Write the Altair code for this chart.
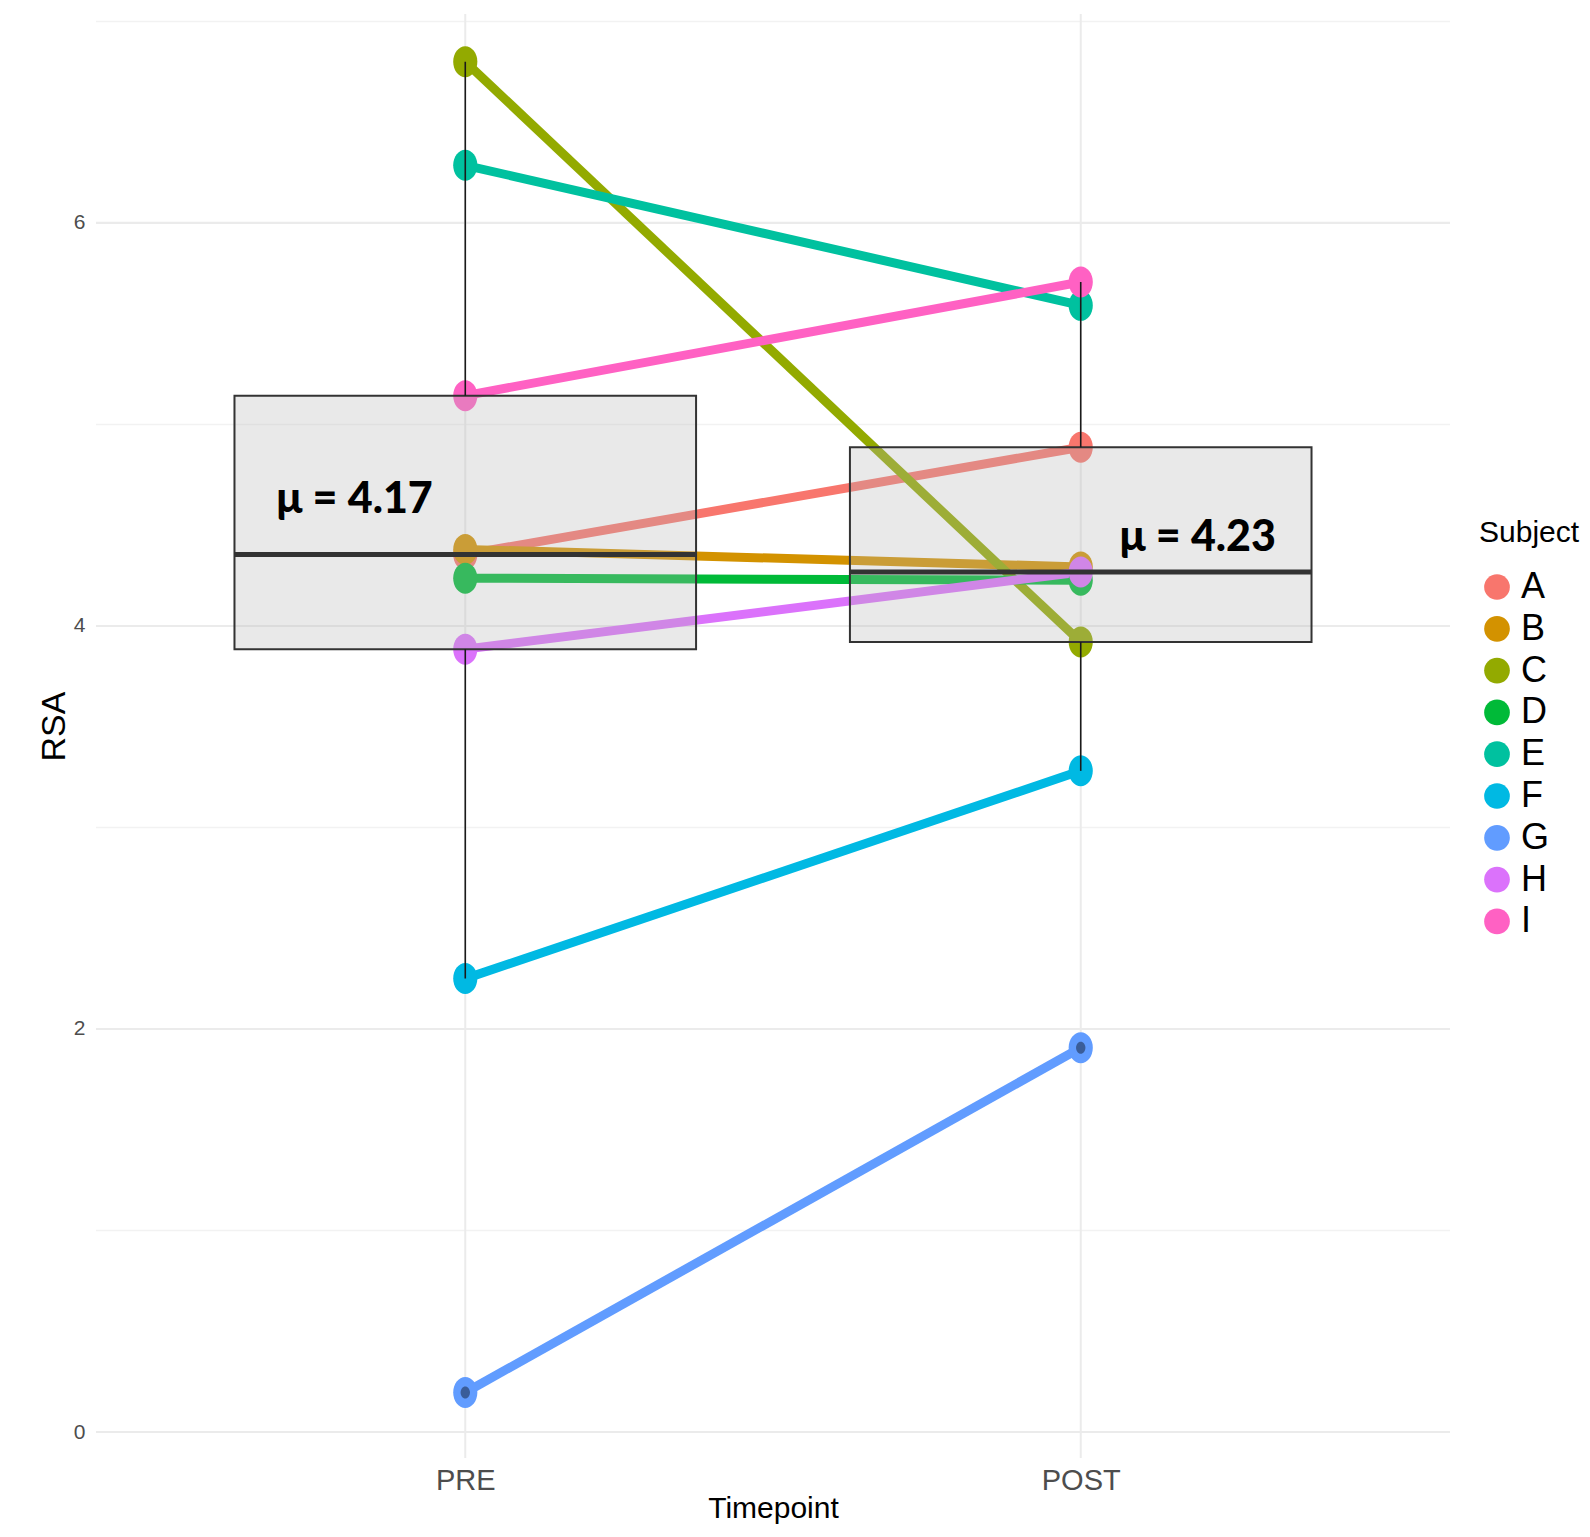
import altair as alt
import numpy as np
import pandas as pd

# ---- data ----
subjects = ["A", "B", "C", "D", "E", "F", "G", "H", "I"]
pre_rsa = [4.355, 4.38, 6.80, 4.237, 6.286, 2.25, 0.196, 3.885, 5.143]
post_rsa = [4.887, 4.293, 3.92, 4.227, 5.591, 3.281, 1.907, 4.268, 5.707]
timepoints = ["PRE", "POST"]
subject_colors = ["#F8766D", "#D39200", "#93AA00", "#00BA38", "#00C19F",
                  "#00B9E3", "#619CFF", "#DB72FB", "#FF61C3"]
y_major = [0, 2, 4, 6]
y_minor = [1, 3, 5, 7]
# annotation anchor (data units) for the mean labels
label_x = [0.82, 2.19]
label_y = [4.56, 4.37]

SANS = "Liberation Sans, Arial"
ELLIPSE = "M0,-1A0.78,1 0 1,1 0,1A0.78,1 0 1,1 0,-1Z"

# ---- tables ----
series = [pre_rsa, post_rsa]
long_df = pd.DataFrame([
    {"Subject": s, "t": i + 1, "RSA": v}
    for i, vals in enumerate(series) for s, v in zip(subjects, vals)
])

stat_rows, out_rows = [], []
for i, vals in enumerate(series):
    arr = np.array(vals)
    q1, med, q3 = np.percentile(arr, [25, 50, 75])
    iqr = q3 - q1
    ok = (arr >= q1 - 1.5 * iqr) & (arr <= q3 + 1.5 * iqr)
    stat_rows.append({
        "t": i + 1, "lo": i + 1 - 0.375, "hi": i + 1 + 0.375,
        "q1": q1, "q3": q3, "med": med,
        "wlo": arr[ok].min(), "whi": arr[ok].max(),
        "lx": label_x[i], "ly": label_y[i],
        "label": f"\u03bc = {arr.mean():.2f}",
    })
    for v in arr[~ok]:
        out_rows.append({"t": i + 1, "RSA": v})
stats = pd.DataFrame(stat_rows)
outliers = pd.DataFrame(out_rows)

xs = alt.Scale(domain=[0.4, 2.6], nice=False, zero=False)
ys = alt.Scale(domain=[-0.129, 7.037], nice=False, zero=False)
cs = alt.Scale(domain=subjects, range=subject_colors)

label_expr = " : ".join(
    f"datum.value == {i + 1} ? '{t}'" for i, t in enumerate(timepoints[:-1])
) + f" : '{timepoints[-1]}'"

x_axis = alt.Axis(values=[1, 2], labelExpr=label_expr, grid=False, ticks=False,
                  domain=False, title="Timepoint", labelFont=SANS,
                  labelFontSize=29, labelColor="#4d4d4d",
                  labelBaseline="alphabetic", labelPadding=31,
                  titleFont=SANS, titleFontSize=30, titleFontWeight="normal",
                  titleColor="black", titleBaseline="alphabetic", titleY=59)
y_axis = alt.Axis(values=y_major, grid=False, ticks=False, domain=False,
                  title="RSA", labelFont=SANS, labelFontSize=21,
                  labelColor="#4d4d4d", labelPadding=11,
                  titleFont=SANS, titleFontSize=34,
                  titleFontWeight="normal", titleColor="black",
                  titleBaseline="alphabetic", titleX=-32, titleY=712,
                  titleAngle=270)
legend = alt.Legend(
    title="Subject", orient="none", legendX=1383, legendY=504,
    symbolType="circle", symbolSize=660, symbolStrokeWidth=0,
    symbolOpacity=1, padding=0, titlePadding=21, rowPadding=5.8,
    labelOffset=6, titleFont=SANS, titleFontSize=30,
    titleFontWeight="normal", titleColor="black", labelFont=SANS,
    labelFontSize=36, labelColor="black")


def X(field):
    return alt.X(field, scale=xs, axis=x_axis, title="Timepoint")


def Y(field):
    return alt.Y(field, scale=ys, axis=y_axis, title="RSA")


grid_major = alt.Chart(pd.DataFrame({"y": y_major})).mark_rule(
    color="#ebebeb", strokeWidth=2.2
).encode(y=Y("y:Q"))
grid_minor = alt.Chart(pd.DataFrame({"y": y_minor})).mark_rule(
    color="#f2f2f2", strokeWidth=1.5
).encode(y=Y("y:Q"))
grid_x = alt.Chart(pd.DataFrame({"x": [1, 2]})).mark_rule(
    color="#ebebeb", strokeWidth=2
).encode(x=X("x:Q"))

lines = alt.Chart(long_df).mark_line(strokeWidth=9).encode(
    x=X("t:Q"),
    y=Y("RSA:Q"),
    color=alt.Color("Subject:N", scale=cs, legend=legend),
    detail="Subject:N",
)

points = alt.Chart(long_df).mark_point(
    filled=True, shape=ELLIPSE, size=960, opacity=1
).encode(
    x=X("t:Q"),
    y=Y("RSA:Q"),
    color=alt.Color("Subject:N", scale=cs, legend=legend),
)

boxes = alt.Chart(stats).mark_rect(
    fill="#b6b6b6", fillOpacity=0.3, stroke="#333333", strokeWidth=2
).encode(x=X("lo:Q"), x2="hi", y=Y("q1:Q"), y2="q3")
whisk_hi = alt.Chart(stats).mark_rule(color="#1a1a1a", strokeWidth=1.6).encode(
    x=X("t:Q"), y=Y("q3:Q"), y2="whi")
whisk_lo = alt.Chart(stats).mark_rule(color="#1a1a1a", strokeWidth=1.6).encode(
    x=X("t:Q"), y=Y("wlo:Q"), y2="q1")
medians = alt.Chart(stats).mark_rule(color="#333333", strokeWidth=5).encode(
    x=X("lo:Q"), x2="hi", y=Y("med:Q"))
outs = alt.Chart(outliers).mark_point(
    filled=True, shape=ELLIPSE, size=144, color="black", opacity=0.4
).encode(x=X("t:Q"), y=Y("RSA:Q"))
labels = alt.Chart(stats).mark_text(
    font="Lato", fontWeight=900, fontSize=43, color="black",
    baseline="alphabetic", align="center"
).encode(x=X("lx:Q"), y=Y("ly:Q"), text="label:N")

chart = alt.layer(
    grid_minor, grid_major, grid_x, lines, points, boxes,
    whisk_hi, whisk_lo, medians, outs, labels
).properties(
    width=1354, height=1444,
    padding={"left": 88, "top": 6, "right": 132, "bottom": 66},
    autosize=alt.AutoSizeParams(type="none"),
    background="white",
).configure_view(stroke=None)

chart.save("out.html", embed_options={"renderer": "svg", "actions": False})
